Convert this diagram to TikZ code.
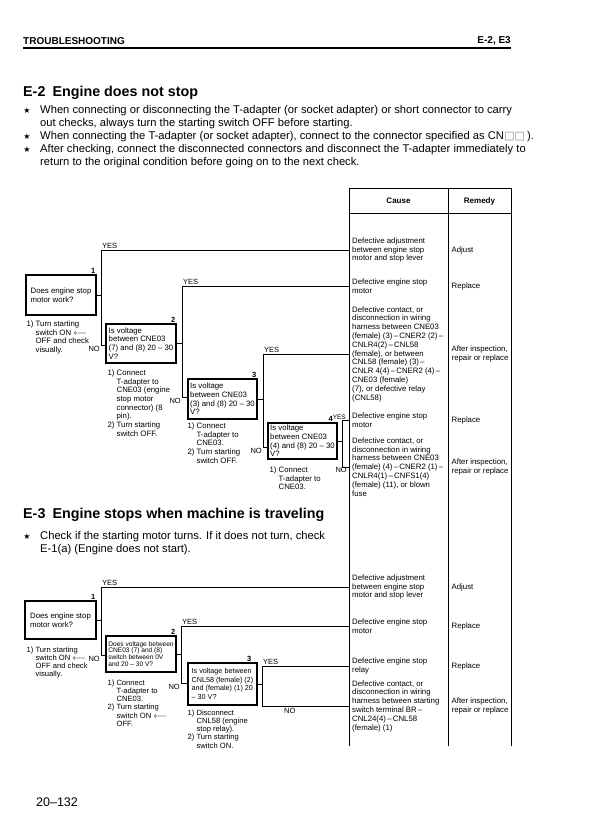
\documentclass[tikz,border=0pt]{standalone}
\usepackage{fontspec}
\setmainfont{Liberation Sans}
\newfontfamily\symfont{DejaVu Sans}
\usetikzlibrary{positioning}
\newcommand{\ind}{\hspace*{9pt}}
\newcommand{\onarrow}{ON~$\longleftarrow$}
\newcommand{\dsh}{\,–\,}

\begin{document}
\begin{tikzpicture}[
 x=1pt, y=-1pt,
 every node/.style={font=\fontsize{7.8}{8.8}\selectfont},
 qbox/.style={draw,line width=1.1pt,align=left,minimum width=70pt,minimum height=40pt,inner xsep=2pt,inner ysep=0pt,font=\fontsize{7.8}{8.7}\selectfont},
 num/.style={anchor=south east,inner sep=1pt,font=\bfseries\fontsize{7.5}{7.5}\selectfont},
 yeslbl/.style={anchor=south west,inner sep=1pt,font=\fontsize{7.5}{7.5}\selectfont},
 nolbl/.style={anchor=north east,inner sep=1pt,font=\fontsize{7.5}{7.5}\selectfont},
 cause/.style={anchor=west,align=left,inner xsep=3pt,inner ysep=0pt},
 remedy/.style={anchor=west,align=left,inner xsep=3.5pt,inner ysep=0pt},
 note/.style={align=left,inner sep=0pt,font=\fontsize{7.8}{8.7}\selectfont},
 lnote/.style={note,font=\fontsize{7.6}{8.2}\selectfont},
 bul/.style={anchor=west,align=left,inner sep=0pt,font=\fontsize{11.2}{12.5}\selectfont},
 bstar/.style={inner sep=0pt,font=\symfont\fontsize{8}{8}\selectfont},
 title/.style={anchor=west,inner sep=0pt,font=\bfseries\fontsize{14.3}{14.3}\selectfont},
 wire/.style={line width=0.8pt},
 tabline/.style={line width=0.8pt}
]
\useasboundingbox (0,0) rectangle (597,836);

% page head
\node[anchor=west,inner sep=0pt,font=\bfseries\fontsize{10}{10}\selectfont] (head) at (23,41) {TROUBLESHOOTING};
\node[anchor=east,inner sep=0pt,font=\bfseries\fontsize{10}{10}\selectfont] (headr) at (511,41) {E-2, E3};
\draw[line width=1.2pt] (23,48) -- (511,48);

% E-2
\node[title] (e2) at (23,93) {E-2\enspace Engine does not stop};
\node[bstar] (s1) at (27,111) {★};
\node[bul] (b1) at (40,117) {When connecting or disconnecting the T-adapter (or socket adapter) or short connector to carry\\out checks, always turn the starting switch OFF before starting.};
\node[bstar] (s2) at (27,137) {★};
\node[bul] (b2) at (40,137) {When connecting the T-adapter (or socket adapter), connect to the connector specified as CN{\color{black!45}\symfont□□}\,).};
\node[bstar] (s3) at (27,150) {★};
\node[bul] (b3) at (40,156) {After checking, connect the disconnected connectors and disconnect the T-adapter immediately to\\return to the original condition before going on to the next check.};

% table
\draw[tabline] (349,746) -- (349,188) -- (511,188) -- (511,746);
\draw[tabline] (448,188) -- (448,746);
\draw[tabline] (349,213) -- (511,213);
\node[font=\bfseries\fontsize{8}{8}\selectfont] (hcause) at (398.5,201) {Cause};
\node[font=\bfseries\fontsize{8}{8}\selectfont] (hremedy) at (479.5,201) {Remedy};

\node[cause] (c1) at (349,250) {Defective adjustment\\between engine stop\\motor and stop lever};
\node[cause] (c2) at (349,286) {Defective engine stop\\motor};
\node[cause] (c3) at (349,354) {Defective contact, or\\disconnection in wiring\\harness between CNE03\\(female) (3)\dsh CNER2 (2)\dsh\\CNLR4(2)\dsh CNL58\\(female), or between\\CNL58 (female) (3)\dsh\\CNLR 4(4)\dsh CNER2 (4)\dsh\\CNE03 (female)\\(7), or defective relay\\(CNL58)};
\node[cause] (c4) at (349,420) {Defective engine stop\\motor};
\node[cause] (c5) at (349,467) {Defective contact, or\\disconnection in wiring\\harness between CNE03\\(female) (4)\dsh CNER2 (1)\dsh\\CNLR4(1)\dsh CNFS1(4)\\(female) (11), or blown\\fuse};
\node[remedy] (m1) at (448,250) {Adjust};
\node[remedy] (m2) at (448,286) {Replace};
\node[remedy] (m3) at (448,354) {After inspection,\\repair or replace};
\node[remedy] (m4) at (448,420) {Replace};
\node[remedy] (m5) at (448,467) {After inspection,\\repair or replace};

\node[qbox] (q1) at (61,295) {Does engine stop\\motor work?};
\node[num] at (q1.north east) {1};
\node[qbox,minimum height=39pt] (q2) at (141,343.5) {Is voltage\\between CNE03\\(7) and (8) 20 – 30\\V?};
\node[num] at (q2.north east) {2};
\node[qbox,minimum width=69pt] (q3) at (222.5,399) {Is voltage\\between CNE03\\(3) and (8) 20 – 30\\V?};
\node[num] at (q3.north east) {3};
\node[qbox,minimum width=69pt,minimum height=36pt] (q4) at (302.5,441) {Is voltage\\between CNE03\\(4) and (8) 20 – 30\\V?};
\node[num,xshift=-3.5pt] at (q4.north east) {4};

\node[note,below right=5pt and 1pt of q1.south west] (n1) {1) Turn starting\\\ind switch \onarrow\\\ind OFF and check\\\ind visually.};
\node[note,below right=6pt and 2pt of q2.south west] (n2) {1) Connect\\\ind T-adapter to\\\ind CNE03 (engine\\\ind stop motor\\\ind connector) (8\\\ind pin).\\2) Turn starting\\\ind switch OFF.};
\node[note,below right=3pt and 0pt of q3.south west] (n3) {1) Connect\\\ind T-adapter to\\\ind CNE03.\\2) Turn starting\\\ind switch OFF.};
\node[note,below right=7pt and 2pt of q4.south west] (n4) {1) Connect\\\ind T-adapter to\\\ind CNE03.};

\coordinate (k1) at (101,345);
\coordinate (k2) at (182,397);
\coordinate (k3) at (263,447);
\coordinate (k4) at (342,467);
\draw[wire] (q1.east) -- (q1.east -| k1);
\draw[wire] (c1.west) -| (k1) -- (k1 -| q2.west);
\node[yeslbl] at (c1.west -| k1) {YES};
\node[nolbl] at (k1) {NO};
\draw[wire] (q2.east) -- (q2.east -| k2);
\draw[wire] (c2.west) -| (k2) -- (k2 -| q3.west);
\node[yeslbl] at (c2.west -| k2) {YES};
\node[nolbl] at (k2) {NO};
\draw[wire] (q3.east) -- (q3.east -| k3);
\draw[wire] (c3.west) -| (k3) -- (k3 -| q4.west);
\node[yeslbl] at (c3.west -| k3) {YES};
\node[nolbl] at (k3) {NO};
\draw[wire] (q4.east) -- (q4.east -| k4);
\draw[wire] (c4.west) -| (k4) -- (c5.west);
\node[yeslbl,anchor=south east,inner sep=0.5pt,xshift=-2.5pt,font=\fontsize{6.5}{6.5}\selectfont] at (c4.west) {YES};
\node[nolbl,inner sep=0.5pt,xshift=-1.5pt] at (c5.west) {NO};

% E-3
\node[title] (e3) at (23,515) {E-3\enspace Engine stops when machine is traveling};
\node[bstar] (s4) at (27,537) {★};
\node[bul,font=\fontsize{11.2}{13}\selectfont] (b4) at (40,543.5) {Check if the starting motor turns. If it does not turn, check\\E-1(a) (Engine does not start).};

\node[cause] (d1) at (349,587) {Defective adjustment\\between engine stop\\motor and stop lever};
\node[cause] (d2) at (349,626) {Defective engine stop\\motor};
\node[cause] (d3) at (349,666) {Defective engine stop\\relay};
\node[cause] (d4) at (349,706) {Defective contact, or\\disconnection in wiring\\harness between starting\\switch terminal BR\dsh\\CNL24(4)\dsh CNL58\\(female) (1)};
\node[remedy] (p1) at (448,587) {Adjust};
\node[remedy] (p2) at (448,626) {Replace};
\node[remedy] (p3) at (448,666) {Replace};
\node[remedy] (p4) at (448,706) {After inspection,\\repair or replace};

\node[qbox,minimum width=71pt,minimum height=38pt] (r1) at (60.5,620) {Does engine stop\\motor work?};
\node[num] at (r1.north east) {1};
\node[qbox,minimum height=36pt,font=\fontsize{6.6}{6.9}\selectfont] (r2) at (141,654) {Does voltage between\\CNE03 (7) and (8)\\switch between 0V\\and 20 – 30 V?};
\node[num] at (r2.north east) {2};
\node[qbox,minimum width=69pt,minimum height=42pt,font=\fontsize{7.2}{8.6}\selectfont] (r3) at (222.5,684) {Is voltage between\\CNL58 (female) (2)\\and (female) (1) 20\\– 30 V?};
\node[num,xshift=-5pt] at (r3.north east) {3};

\node[lnote,below right=7pt and 2pt of r1.south west] (o1) {1) Turn starting\\\ind switch \onarrow\\\ind OFF and check\\\ind visually.};
\node[lnote,below right=7pt and 2pt of r2.south west] (o2) {1) Connect\\\ind T-adapter to\\\ind CNE03.\\2) Turn starting\\\ind switch \onarrow\\\ind OFF.};
\node[lnote,below right=4pt and 0pt of r3.south west] (o3) {1) Disconnect\\\ind CNL58 (engine\\\ind stop relay).\\2) Turn starting\\\ind switch ON.};

\coordinate (l1) at (101,655);
\coordinate (l2) at (181,683);
\coordinate (l3) at (262,706);
\draw[wire] (r1.east) -- (r1.east -| l1);
\draw[wire] (d1.west) -| (l1) -- (l1 -| r2.west);
\node[yeslbl] at (d1.west -| l1) {YES};
\node[nolbl] at (l1) {NO};
\draw[wire] (r2.east) -- (r2.east -| l2);
\draw[wire] (d2.west) -| (l2) -- (l2 -| r3.west);
\node[yeslbl] at (d2.west -| l2) {YES};
\node[nolbl] at (l2) {NO};
\draw[wire] (r3.east) -- (r3.east -| l3);
\draw[wire] (d3.west) -| (l3) -- node[below,pos=0.32,inner sep=2pt,font=\fontsize{7.5}{7.5}\selectfont] {NO} (d4.west);
\node[yeslbl] at (d3.west -| l3) {YES};

\node[anchor=west,inner sep=0pt,font=\fontsize{12.5}{12.5}\selectfont] (pg) at (36,802) {20–132};
\end{tikzpicture}
\end{document}
